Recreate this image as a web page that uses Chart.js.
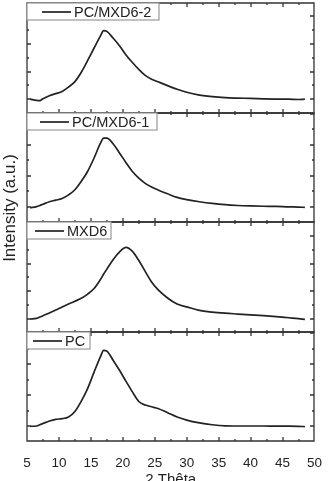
<!DOCTYPE html>
<html>
<head>
<meta charset="utf-8">
<script src="https://cdn.jsdelivr.net/npm/chart.js@4/dist/chart.umd.min.js"></script>
<style>
  html, body { margin: 0; padding: 0; background: #fff; }
  canvas { display: block; }
</style>
</head>
<body>
<canvas id="xrd" width="328" height="481"></canvas>
<script>
// 2 theta positions (degrees) shared by all patterns
const twoTheta = [5.5, 6.5, 7, 7.5, 8.5, 9.5, 10.5, 11.5, 12.5, 13.5, 14.5, 15.5, 16.5, 17, 17.5,
  18.5, 19.5, 20.5, 21.5, 22.5, 23.5, 24.5, 25.5, 27, 28.5, 30, 32, 34, 36, 38, 40, 42, 44, 46, 47.5, 48.5];

// intensities (a.u.)
const pcMxd6_2 = [0.0, -0.08, -0.1, 0.04, 0.25, 0.4, 0.56, 0.88, 1.27, 1.95, 2.8, 3.7, 4.58, 4.95, 4.9,
  4.4, 3.85, 3.2, 2.65, 2.15, 1.72, 1.45, 1.26, 0.98, 0.72, 0.5, 0.3, 0.18, 0.11, 0.08, 0.06, 0.03, 0.01, 0.0, -0.02, 0.0];
const pcMxd6_1 = [-0.05, 0.03, 0.1, 0.18, 0.34, 0.44, 0.55, 0.78, 1.11, 1.65, 2.3, 3.15, 4.1, 4.42, 4.42,
  4.05, 3.46, 2.85, 2.28, 1.85, 1.52, 1.28, 1.1, 0.85, 0.62, 0.48, 0.34, 0.23, 0.15, 0.1, 0.07, 0.05, 0.04, 0.01, 0.0, -0.02];
const mxd6 = [0.0, 0.05, 0.14, 0.24, 0.44, 0.65, 0.87, 1.08, 1.28, 1.5, 1.8, 2.2, 2.85, 3.25, 3.6,
  4.3, 4.85, 5.17, 4.88, 4.22, 3.44, 2.67, 2.12, 1.52, 1.08, 0.88, 0.62, 0.5, 0.42, 0.36, 0.3, 0.24, 0.17, 0.09, 0.03, -0.03];
const pc = [0.0, 0.02, 0.1, 0.18, 0.34, 0.45, 0.49, 0.6, 0.95, 1.62, 2.45, 3.5, 4.5, 4.9, 4.85,
  4.25, 3.6, 2.9, 2.22, 1.6, 1.37, 1.26, 1.15, 0.88, 0.6, 0.4, 0.22, 0.1, 0.03, 0.02, 0.02, 0.02, 0.01, 0.01, 0.0, -0.02];

const seriesNames = ['PC/MXD6-2', 'PC/MXD6-1', 'MXD6', 'PC'];
const seriesValues = [pcMxd6_2, pcMxd6_1, mxd6, pc];
const xTickValues = [5, 10, 15, 20, 25, 30, 35, 40, 45, 50];

// axis ranges of each panel, top to bottom
const yMins = [-0.96, -0.96, -0.9, -0.95];
const yMaxs = [6.95, 6.07, 7.0, 6.12];

// legend box look per panel
const legendIndent = [15, 13, 8, 6];
const legendTail = [8, 8, 4, 5];

const FONT = '"Liberation Sans", Arial, sans-serif';
const INK = '#222';
const FRAME = '#333';

const panelFrames = {
  id: 'panelFrames',
  afterDraw(chart) {
    const ctx = chart.ctx;
    const xs = chart.scales.x;
    ctx.save();
    const left = Math.round(xs.left);
    const right = Math.round(xs.right);

    // frames and inward ticks
    ctx.strokeStyle = FRAME;
    ctx.lineWidth = 1.3;
    seriesNames.forEach((name, i) => {
      const ys = chart.scales['y' + i];
      const top = Math.round(ys.top);
      const bottom = Math.round(ys.bottom);
      ctx.beginPath();
      ctx.rect(left, top, right - left, bottom - top);
      xTickValues.forEach(v => {
        [v, v + 2.5].forEach(t => {
          if (t > xs.max) return;
          const px = Math.round(xs.getPixelForValue(t));
          const len = t === v ? 4 : 2;
          ctx.moveTo(px, bottom); ctx.lineTo(px, bottom - len);
          ctx.moveTo(px, top); ctx.lineTo(px, top + len);
        });
      });
      for (let v = Math.ceil(ys.min); v <= ys.max; v++) {
        const py = Math.round(ys.getPixelForValue(v));
        const len = v % 2 === 0 ? 4 : 2;
        ctx.moveTo(left, py); ctx.lineTo(left + len, py);
        ctx.moveTo(right, py); ctx.lineTo(right - len, py);
      }
      ctx.stroke();
    });

    // legend boxes
    ctx.font = '14.5px ' + FONT;
    seriesNames.forEach((name, i) => {
      const ys = chart.scales['y' + i];
      const top = Math.round(ys.top);
      const lineStart = left + legendIndent[i];
      const lineEnd = lineStart + 29;
      const textX = lineEnd + 3;
      const boxRight = Math.round(textX + ctx.measureText(name).width + legendTail[i]);
      ctx.fillStyle = '#fff';
      ctx.fillRect(left, top, boxRight - left, 17);
      ctx.lineWidth = 1.2;
      ctx.strokeStyle = '#9a9a9a';
      ctx.strokeRect(left, top, boxRight - left, 17);
      ctx.strokeStyle = INK;
      ctx.lineWidth = 1.7;
      ctx.beginPath();
      ctx.moveTo(lineStart, top + 9);
      ctx.lineTo(lineEnd, top + 9);
      ctx.stroke();
      ctx.fillStyle = INK;
      ctx.textBaseline = 'middle';
      ctx.textAlign = 'left';
      ctx.fillText(name, textX, top + 9.5);
    });

    // axis titles
    ctx.fillStyle = INK;
    ctx.textAlign = 'center';
    ctx.font = '15px ' + FONT;
    ctx.textBaseline = 'alphabetic';
    ctx.fillText('2 Thêta', (xs.left + xs.right) / 2, 484);
    ctx.translate(10, 208);
    ctx.rotate(-Math.PI / 2);
    ctx.textBaseline = 'middle';
    ctx.font = '17px ' + FONT;
    ctx.fillText('Intensity (a.u.)', 0, 0);
    ctx.restore();
  }
};

const scales = {
  x: {
    type: 'linear',
    position: 'bottom',
    min: 5,
    max: 50,
    afterBuildTicks: s => { s.ticks = xTickValues.map(v => ({ value: v })); },
    afterFit: s => { s.height = 40; },
    grid: { display: false },
    border: { display: false },
    ticks: { color: INK, font: { family: FONT, size: 13.5 }, padding: 6, maxRotation: 0, autoSkip: false }
  }
};
// stacked left axes are placed last-defined first, so add them bottom panel first
for (let i = seriesNames.length - 1; i >= 0; i--) {
  scales['y' + i] = {
    type: 'linear',
    position: 'left',
    stack: 'panels',
    stackWeight: 1,
    min: yMins[i],
    max: yMaxs[i],
    afterFit: s => { s.width = 0; },
    grid: { display: false },
    border: { display: false },
    ticks: { display: false }
  };
}

new Chart(document.getElementById('xrd'), {
  type: 'line',
  data: {
    datasets: seriesNames.map((name, i) => ({
      label: name,
      yAxisID: 'y' + i,
      data: twoTheta.map((t, k) => ({ x: t, y: seriesValues[i][k] })),
      borderColor: INK,
      borderWidth: 1.7,
      pointRadius: 0,
      fill: false,
      cubicInterpolationMode: 'monotone'
    }))
  },
  options: {
    responsive: false,
    animation: false,
    devicePixelRatio: 1,
    layout: { padding: { left: 27, right: 12, top: 3, bottom: 0 } },
    plugins: { legend: { display: false }, tooltip: { enabled: false } },
    scales: scales
  },
  plugins: [panelFrames]
});
</script>
</body>
</html>
